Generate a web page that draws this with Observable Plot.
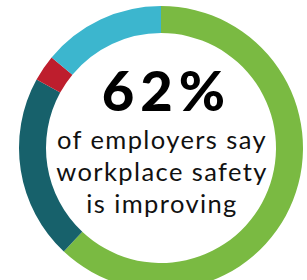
<!DOCTYPE html>
<html><head><meta charset="utf-8">
<script src="https://cdn.jsdelivr.net/npm/d3@7"></script>
<script src="https://cdn.jsdelivr.net/npm/@observablehq/plot@0.6"></script>
<style>html,body{margin:0;padding:0;background:#fff;overflow:hidden;}</style>
</head><body><div id="chart"></div>
<script>
const segments = ["Improving", "Staying the same", "Getting worse", "Not sure"];
const shares = [62, 21, 3, 14];
const colors = ["#7aba42", "#17616b", "#be1e2d", "#3cb6ce"];
const headline = "62%";
const captionLines = ["of employers say", "workplace safety", "is improving"];

const data = segments.map((s, i) => ({segment: s, share: shares[i], color: colors[i]}));

function donut(index, scales, values, dims) {
  const cx = dims.marginLeft + (dims.width - dims.marginLeft - dims.marginRight) / 2;
  const cy = dims.marginTop + (dims.height - dims.marginTop - dims.marginBottom) / 2;
  const pie = d3.pie().sort(null).value(d => d.share)(data);
  const arc = d3.arc().innerRadius(115).outerRadius(142);
  const g = d3.create("svg:g").attr("transform", `translate(${cx},${cy})`);
  g.selectAll("path").data(pie).join("path")
    .attr("d", arc)
    .attr("fill", d => d.data.color);
  return g.node();
}

const chart = Plot.plot({
  width: 307,
  height: 280,
  marginLeft: 15,
  marginRight: 0,
  marginTop: 16,
  marginBottom: 0,
  style: {background: "#fff"},
  marks: [
    donut,
    Plot.text([headline], {
      text: d => d, frameAnchor: "middle", lineAnchor: "bottom", dy: -38, dx: 5,
      fontSize: 56, fontWeight: 900, fontFamily: "Lato", fill: "#000"
    }),
    Plot.text([captionLines.join("\n")], {
      text: d => d, frameAnchor: "middle", lineAnchor: "top", dy: -22, dx: 0.5,
      lineHeight: 1.255, fontSize: 25.5, fontFamily: "Lato", fill: "#111"
    })
  ]
});
const textGroups = d3.select(chart).selectAll('g[aria-label="text"]').nodes();
if (textGroups[0]) textGroups[0].setAttribute("letter-spacing", "6px");
if (textGroups[1]) textGroups[1].setAttribute("letter-spacing", "1.4px");
document.getElementById("chart").appendChild(chart);
</script>
</body></html>
